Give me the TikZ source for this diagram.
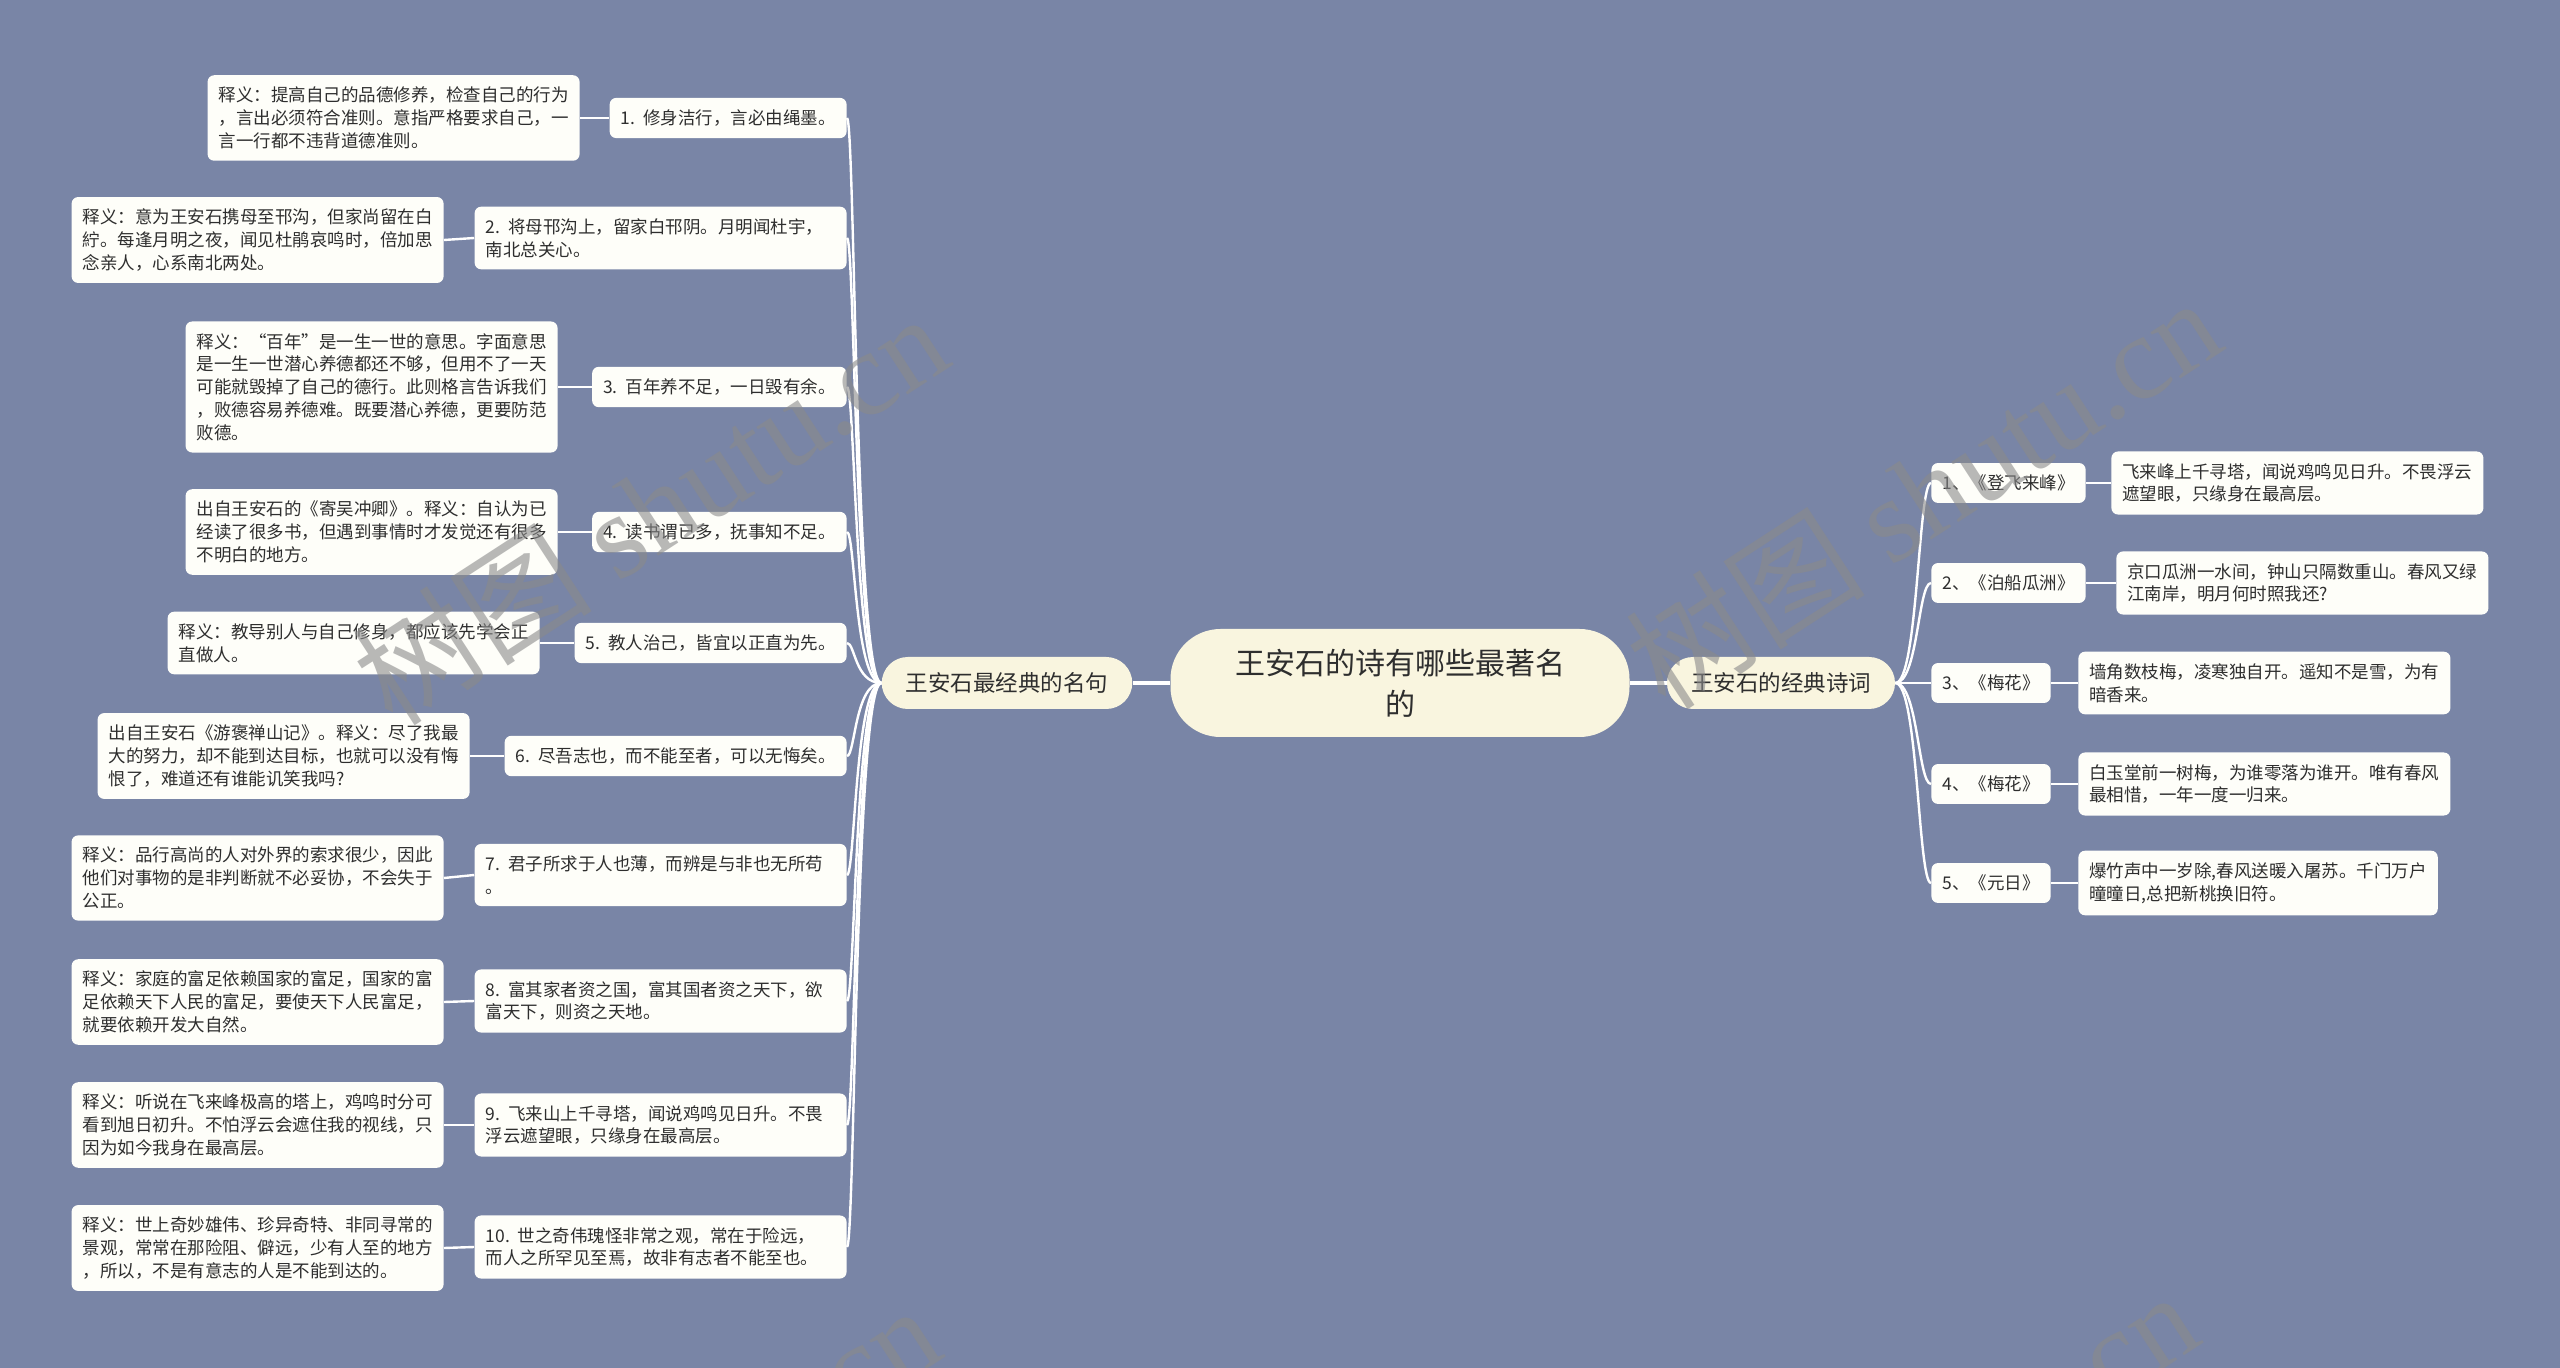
\documentclass[tikz,border=0pt]{standalone}
\usepackage{fontspec}
\setmainfont{Noto Sans CJK SC}
\newfontfamily\wmfont{Liberation Serif}
\definecolor{bgc}{HTML}{7985A6}
\definecolor{leafc}{HTML}{FEFEF9}
\definecolor{creamc}{HTML}{F9F5DF}
\definecolor{txtc}{HTML}{2E2E2E}
\definecolor{wmc}{HTML}{8A8A8A}
\newcommand{\numsp}{\hspace{0.45em}}
\begin{document}
\begin{tikzpicture}[x=0.5pt,y=-0.5pt,
  leafbox/.style={fill=leafc, rounded corners=3.3pt, align=left, inner xsep=5.5pt, inner ysep=5.9pt, text=txtc, font=\fontsize{8.75pt}{11.4pt}\selectfont},
  widebox/.style={leafbox, text width=175pt},
  branchbox/.style={fill=creamc, rounded corners=13pt, minimum height=26pt, inner xsep=12pt, text=txtc, font=\fontsize{11.25pt}{13pt}\selectfont},
  centrebox/.style={fill=creamc, rounded corners=25pt, minimum width=229.5pt, minimum height=54pt, align=center, text=txtc, font=\fontsize{15pt}{20.5pt}\selectfont},
  conn/.style={draw=white, line width=1.2pt},
  mainconn/.style={draw=white, line width=1.6pt},
  wmark/.style={text=wmc, opacity=0.6, font=\fontsize{60pt}{64pt}\selectfont, rotate=33}
]
\fill[bgc] (0,0) rectangle (2560,1368);
\useasboundingbox (0,0) rectangle (2560,1368);
\clip (0,0) rectangle (2560,1368);

% centre and branches
\node[centrebox] (c) at (1400,683) {王安石的诗有哪些最著名\\的};
\node[branchbox] (L) at (1007,683) {王安石最经典的名句};
\node[branchbox] (R) at (1781,683) {王安石的经典诗词};

% left items
\node[leafbox, anchor=east] (i1) at (847,118) {1.\numsp 修身洁行，言必由绳墨。};
\node[widebox, anchor=east] (i2) at (847,238) {2.\numsp 将母邗沟上，留家白邗阴。月明闻杜宇，\\南北总关心。};
\node[leafbox, anchor=east] (i3) at (847,387) {3.\numsp 百年养不足，一日毁有余。};
\node[leafbox, anchor=east] (i4) at (847,532) {4.\numsp 读书谓已多，抚事知不足。};
\node[leafbox, anchor=east] (i5) at (847,643) {5.\numsp 教人治己，皆宜以正直为先。};
\node[leafbox, anchor=east] (i6) at (847,756) {6.\numsp 尽吾志也，而不能至者，可以无悔矣。};
\node[widebox, anchor=east] (i7) at (847,875) {7.\numsp 君子所求于人也薄，而辨是与非也无所苟\\。};
\node[widebox, anchor=east] (i8) at (847,1001) {8.\numsp 富其家者资之国，富其国者资之天下，欲\\富天下，则资之天地。};
\node[widebox, anchor=east] (i9) at (847,1125) {9.\numsp 飞来山上千寻塔，闻说鸡鸣见日升。不畏\\浮云遮望眼，只缘身在最高层。};
\node[widebox, anchor=east] (i10) at (847,1247) {10.\numsp 世之奇伟瑰怪非常之观，常在于险远，\\而人之所罕见至焉，故非有志者不能至也。};

% left explanations
\node[leafbox, anchor=east] (e1) at (580,118) {释义：提高自己的品德修养，检查自己的行为\\，言出必须符合准则。意指严格要求自己，一\\言一行都不违背道德准则。};
\node[leafbox, anchor=east] (e2) at (444,240) {释义：意为王安石携母至邗沟，但家尚留在白\\紵。每逢月明之夜，闻见杜鹃哀鸣时，倍加思\\念亲人，心系南北两处。};
\node[leafbox, anchor=east] (e3) at (558,387) {释义：“百年”是一生一世的意思。字面意思\\是一生一世潜心养德都还不够，但用不了一天\\可能就毁掉了自己的德行。此则格言告诉我们\\，败德容易养德难。既要潜心养德，更要防范\\败德。};
\node[leafbox, anchor=east] (e4) at (558,532) {出自王安石的《寄吴冲卿》。释义：自认为已\\经读了很多书，但遇到事情时才发觉还有很多\\不明白的地方。};
\node[leafbox, anchor=east] (e5) at (540,643) {释义：教导别人与自己修身，都应该先学会正\\直做人。};
\node[leafbox, anchor=east] (e6) at (470,756) {出自王安石《游褒禅山记》。释义：尽了我最\\大的努力，却不能到达目标，也就可以没有悔\\恨了，难道还有谁能讥笑我吗?};
\node[leafbox, anchor=east] (e7) at (444,878) {释义：品行高尚的人对外界的索求很少，因此\\他们对事物的是非判断就不必妥协，不会失于\\公正。};
\node[leafbox, anchor=east] (e8) at (444,1002) {释义：家庭的富足依赖国家的富足，国家的富\\足依赖天下人民的富足，要使天下人民富足，\\就要依赖开发大自然。};
\node[leafbox, anchor=east] (e9) at (444,1125) {释义：听说在飞来峰极高的塔上，鸡鸣时分可\\看到旭日初升。不怕浮云会遮住我的视线，只\\因为如今我身在最高层。};
\node[leafbox, anchor=east] (e10) at (444,1248) {释义：世上奇妙雄伟、珍异奇特、非同寻常的\\景观，常常在那险阻、僻远，少有人至的地方\\，所以，不是有意志的人是不能到达的。};

% right items
\node[leafbox, anchor=west] (r1) at (1931,483) {1、《登飞来峰》};
\node[leafbox, anchor=west] (r2) at (1931,583) {2、《泊船瓜洲》};
\node[leafbox, anchor=west] (r3) at (1931,683) {3、《梅花》};
\node[leafbox, anchor=west] (r4) at (1931,784) {4、《梅花》};
\node[leafbox, anchor=west] (r5) at (1931,883) {5、《元日》};

% right poems
\node[leafbox, anchor=west] (p1) at (2111,483) {飞来峰上千寻塔，闻说鸡鸣见日升。不畏浮云\\遮望眼，只缘身在最高层。};
\node[leafbox, anchor=west] (p2) at (2116,583) {京口瓜洲一水间，钟山只隔数重山。春风又绿\\江南岸，明月何时照我还?};
\node[leafbox, anchor=west] (p3) at (2078,683) {墙角数枝梅，凌寒独自开。遥知不是雪，为有\\暗香来。};
\node[leafbox, anchor=west] (p4) at (2078,784) {白玉堂前一树梅，为谁零落为谁开。唯有春风\\最相惜，一年一度一归来。};
\node[leafbox, anchor=west] (p5) at (2078,883) {爆竹声中一岁除,春风送暖入屠苏。千门万户\\曈曈日,总把新桃换旧符。};

% connectors
\draw[mainconn] (c.west) -- (L.east);
\draw[mainconn] (c.east) -- (R.west);
\foreach \n/\y in {i1/118,i2/238,i3/387,i4/532,i5/643,i6/756,i7/875,i8/1001,i9/1125,i10/1247}
  \draw[conn] (L.west) .. controls (855,683) and (855,\y) .. (\n.east);
\foreach \n/\y in {r1/483,r2/583,r4/784,r5/883}
  \draw[conn] (R.east) .. controls (1918,683) and (1918,\y) .. (\n.west);
\draw[conn] (R.east) -- (r3.west);
\foreach \n in {1,...,10}
  \draw[conn] (e\n.east) -- (i\n.west);
\foreach \n in {1,...,5}
  \draw[conn] (r\n.east) -- (p\n.west);

% watermarks
\node[wmark] (w1) at (650,508) {树图 {\wmfont shutu.cn}};
\node[wmark] (w2) at (1923,492) {树图 {\wmfont shutu.cn}};
\node[wmark] (w3) at (642,1500) {树图 {\wmfont shutu.cn}};
\node[wmark] (w4) at (1900,1486) {树图 {\wmfont shutu.cn}};
\end{tikzpicture}
\end{document}
